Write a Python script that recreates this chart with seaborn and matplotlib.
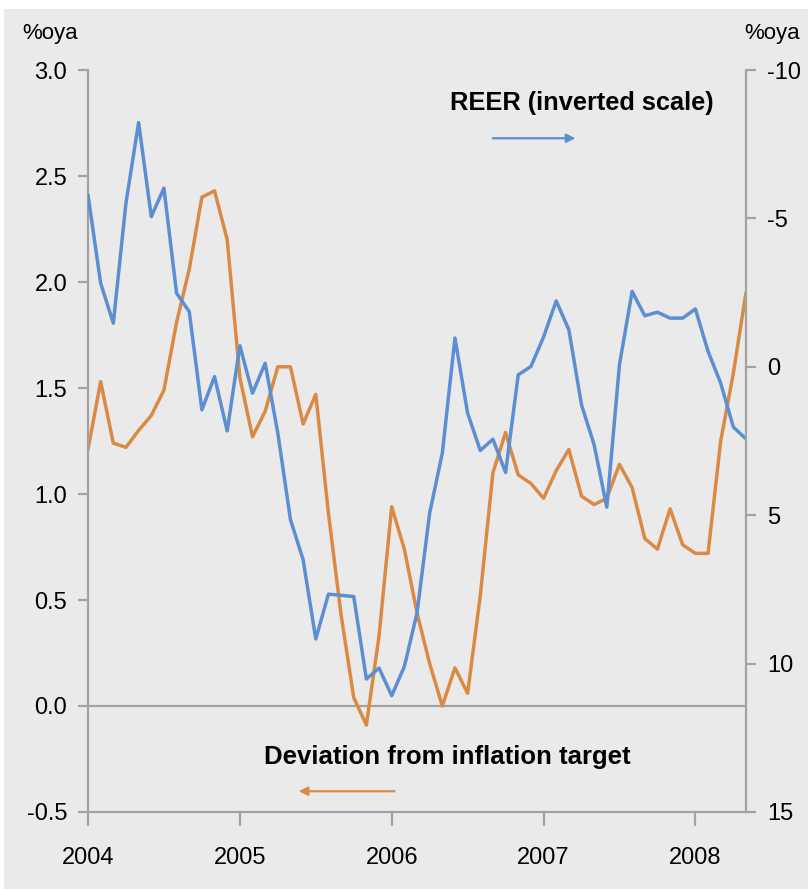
import numpy as np
import pandas as pd
import matplotlib.pyplot as plt
import seaborn as sns
from matplotlib.patches import Rectangle

# Monthly data, Jan 2004 to May 2008
years = ['2004', '2005', '2006', '2007', '2008']
deviation = [1.21, 1.53, 1.24, 1.22, 1.30, 1.37, 1.49, 1.81, 2.06, 2.40, 2.43, 2.20,
             1.55, 1.27, 1.39, 1.60, 1.60, 1.33, 1.47, 0.91, 0.43, 0.04, -0.09, 0.33,
             0.94, 0.74, 0.44, 0.20, 0.00, 0.18, 0.06, 0.52, 1.10, 1.29, 1.09, 1.05,
             0.98, 1.11, 1.21, 0.99, 0.95, 0.98, 1.14, 1.03, 0.79, 0.74, 0.93, 0.76,
             0.72, 0.72, 1.25, 1.57, 1.95]
reer = [-5.79, -2.82, -1.47, -5.52, -8.23, -5.06, -6.02, -2.48, -1.86, 1.45, 0.33, 2.16,
        -0.71, 0.89, -0.12, 2.23, 5.15, 6.50, 9.17, 7.66, 7.70, 7.74, 10.52, 10.15,
        11.08, 10.10, 8.30, 4.93, 2.91, -0.97, 1.56, 2.82, 2.44, 3.56, 0.27, -0.01,
        -1.00, -2.22, -1.25, 1.28, 2.63, 4.73, -0.07, -2.54, -1.72, -1.84, -1.64, -1.64,
        -1.95, -0.52, 0.55, 2.03, 2.43]
left_ticks = [-0.5, 0.0, 0.5, 1.0, 1.5, 2.0, 2.5, 3.0]
right_ticks = [-10, -5, 0, 5, 10, 15]

df = pd.DataFrame({'month': np.arange(len(deviation)), 'deviation': deviation, 'reer': reer})

blue = '#5B8FD1'
orange = '#D98B45'
grey = '#A3A3A3'
bg = '#EAEAEA'

sns.set_theme(style='ticks')
plt.rcParams['font.family'] = ['Liberation Sans', 'DejaVu Sans']
plt.rcParams['text.color'] = 'black'

fig = plt.figure(figsize=(8.08, 8.89), dpi=100, facecolor='white')
fig.patches.append(Rectangle((4 / 808, 0), 1, 1 - 9 / 889, transform=fig.transFigure,
                             facecolor=bg, edgecolor='none', zorder=-10))
ax = fig.add_axes([88 / 808, 1 - 812 / 889, 658 / 808, 742 / 889])
ax.set_facecolor('none')

ax.axhline(0, color=grey, lw=1.6, zorder=0)
sns.lineplot(data=df, x='month', y='deviation', ax=ax, color=orange, lw=2.5)
ax.set_ylim(-0.5, 3.0)
ax.set_xlim(0, 52)
ax.set_yticks(left_ticks)
ax.set_yticklabels([f'{t:.1f}' for t in left_ticks])
ax.set_xticks([0, 12, 24, 36, 48])
ax.set_xticklabels(years)
ax.set_xlabel('')
ax.set_ylabel('')

ax2 = ax.twinx()
sns.lineplot(data=df, x='month', y='reer', ax=ax2, color=blue, lw=2.5)
ax2.set_ylim(15, -10)
ax2.set_yticks(right_ticks)
ax2.set_yticklabels([str(t) for t in right_ticks])
ax2.set_ylabel('')

for a in (ax, ax2):
    a.spines['top'].set_visible(False)
    for s in ('left', 'right', 'bottom'):
        a.spines[s].set_color(grey)
        a.spines[s].set_linewidth(1.6)
    a.tick_params(axis='y', colors=grey, labelcolor='black', labelsize=17, length=7, width=1.6, pad=8)
ax.spines['right'].set_visible(False)
ax2.spines['left'].set_visible(False)
ax2.spines['bottom'].set_visible(False)
ax.tick_params(axis='x', colors=grey, labelcolor='black', labelsize=17, length=10, width=1.6, pad=15)

fig.text(50 / 808, 1 - 33 / 889, '%oya', fontsize=16, ha='center', va='center', color='black')
fig.text(772 / 808, 1 - 33 / 889, '%oya', fontsize=16, ha='center', va='center', color='black')

ax.text(0.751, 0.955, 'REER (inverted scale)', transform=ax.transAxes, fontsize=18.3,
        fontweight='bold', ha='center', va='center', color='black')
ax.annotate('', xy=(0.745, 0.908), xytext=(0.611, 0.908), xycoords='axes fraction',
            arrowprops=dict(arrowstyle='-|>', color=blue, lw=1.6, mutation_scale=13))
ax.text(0.546, 0.074, 'Deviation from inflation target', transform=ax.transAxes, fontsize=18.5,
        fontweight='bold', ha='center', va='center', color='black')
ax.annotate('', xy=(0.316, 0.028), xytext=(0.470, 0.028), xycoords='axes fraction',
            arrowprops=dict(arrowstyle='-|>', color=orange, lw=1.6, mutation_scale=13))

fig.savefig('out.png', dpi=100, facecolor=fig.get_facecolor())
